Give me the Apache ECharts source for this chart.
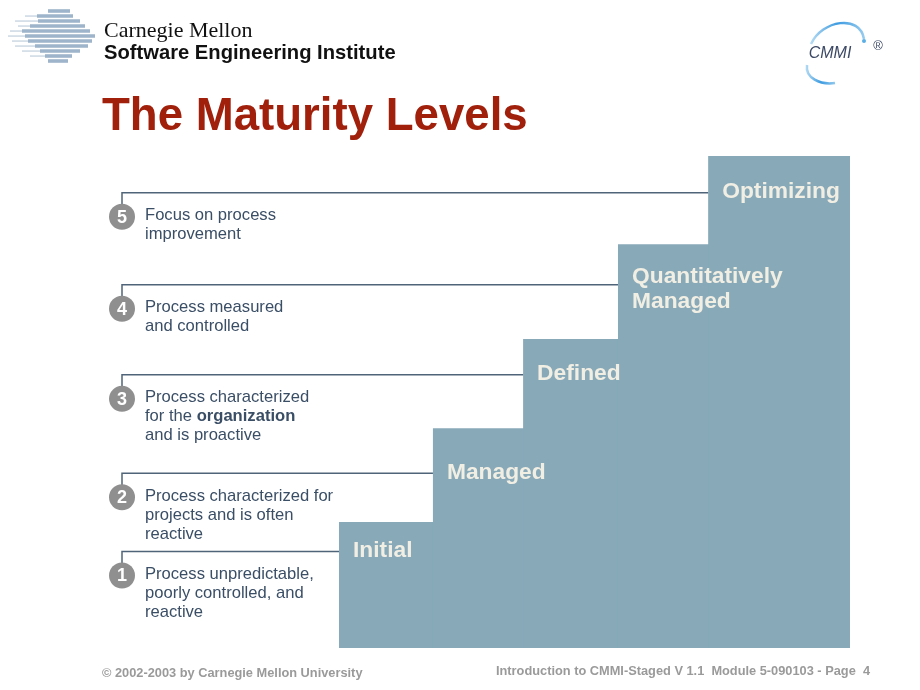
<!DOCTYPE html>
<html>
<head>
<meta charset="utf-8">
<script src="https://cdn.jsdelivr.net/npm/echarts@6/dist/echarts.min.js"></script>
<style>
html,body{margin:0;padding:0;background:#fff;}
#chart{width:920px;height:690px;}
</style>
</head>
<body>
<div id="chart"></div>
<script>
// ---- data ----
const levelNumbers = [1, 2, 3, 4, 5];
const levelNames = ['Initial', 'Managed', 'Defined', 'Quantitatively\nManaged', 'Optimizing'];
const descriptions = [
  'Process unpredictable,\npoorly controlled, and\nreactive',
  'Process characterized for\nprojects and is often\nreactive',
  'Process characterized\nfor the {b|organization}\nand is proactive',
  'Process measured\nand controlled',
  'Focus on process\nimprovement'
];
const stepLeft = [0, 1, 1.96, 2.97, 3.93];
const stepRight = [1, 1.96, 2.97, 3.93, 5.44];
const stepTop = [1.37, 2.39, 3.36, 4.39, 5.35];
const calloutY = [1.05, 1.90, 2.97, 3.95, 4.95];
const calloutX = -2.31;

const FONT = "'Liberation Sans', Arial, Helvetica, sans-serif";
const chart = echarts.init(document.getElementById('chart'), null, {renderer: 'canvas'});

function renderItem(params, api) {
  const i = params.dataIndex;
  const last = i === levelNumbers.length - 1;
  const l = api.value(0), r = api.value(1), t = api.value(2), cy = api.value(3);
  const p0 = api.coord([l, 0]);
  const p1 = api.coord([r, t]);
  const lp = api.coord([l, cy]);
  const cp = api.coord([calloutX, cy]);
  const circleY = lp[1] + 24;
  return {
    type: 'group',
    children: [
      {type: 'rect', z2: 1,
       shape: {x: p0[0], y: p1[1], width: p1[0] - p0[0] + (last ? 0 : 2), height: p0[1] - p1[1]},
       style: {fill: '#87a9b8'}},
      {type: 'polyline', z2: 2, shape: {points: [[lp[0], lp[1]], [cp[0], lp[1]], [cp[0], circleY - 12]]},
       style: {stroke: '#4f6478', lineWidth: 1.5, fill: 'none'}},
      {type: 'circle', z2: 3, shape: {cx: cp[0], cy: circleY, r: 13}, style: {fill: '#8f8f8f'}},
      {type: 'text', z2: 4, x: cp[0], y: circleY + 1,
       style: {text: String(api.value(4)), fill: '#ffffff', fontSize: 18, fontWeight: 'bold', fontFamily: FONT,
               align: 'center', verticalAlign: 'middle'}},
      {type: 'text', z2: 4, x: cp[0] + 23, y: circleY - 10.5,
       style: {text: descriptions[i], fill: '#3a4e66', fontSize: 16.6, fontFamily: FONT, lineHeight: 19,
               align: 'left', verticalAlign: 'top',
               rich: {b: {fontWeight: 'bold', fill: '#3a4e66', fontSize: 16.6, fontFamily: FONT, lineHeight: 19}}}},
      {type: 'text', z2: 10, x: p0[0] + 14, y: lp[1] + (i === 3 ? 4 : -1),
       style: {text: levelNames[i], fill: '#f1eee4', fontSize: 22.8, fontWeight: 'bold', fontFamily: FONT,
               lineHeight: 25, align: 'left', verticalAlign: 'middle'}}
    ]
  };
}

// logo stripes: [y, thickStart, thickEnd, thinStart]
const stripes = [
  [11, 48, 70, null], [16, 37, 73, 25], [21, 38, 80, 15], [26, 30, 85, 18], [31, 22, 90, 10],
  [36, 25, 95, 8], [41, 28, 92, 12], [46, 35, 88, 15], [51, 40, 80, 22], [56, 45, 72, 30], [61, 48, 68, null]
];
const logoEls = [];
stripes.forEach(s => {
  if (s[3] !== null) {
    logoEls.push({type: 'rect', shape: {x: s[3], y: s[0] - 0.6, width: s[1] - s[3], height: 1.3}, style: {fill: '#c4d2df'}});
  }
  logoEls.push({type: 'rect', shape: {x: s[1], y: s[0] - 1.8, width: s[2] - s[1], height: 3.6}, style: {fill: '#9db4ca'}});
});

const arcGrad = new echarts.graphic.LinearGradient(0, 0, 1, 0, [
  {offset: 0, color: '#bfe0f5'}, {offset: 0.5, color: '#3d9be0'}, {offset: 1, color: '#9fd0f0'}
]);

chart.setOption({
  animation: false,
  backgroundColor: '#ffffff',
  grid: {left: 122, right: 70, top: 156, bottom: 42},
  xAxis: {type: 'value', min: calloutX, max: 5.44, show: false},
  yAxis: {type: 'value', min: 0, max: 5.35, show: false},
  series: [{
    type: 'custom',
    silent: true,
    renderItem: renderItem,
    data: levelNumbers.map((n, i) => [stepLeft[i], stepRight[i], stepTop[i], calloutY[i], n])
  }],
  graphic: [
    {type: 'group', children: logoEls},
    {type: 'text', x: 104, y: 31, style: {text: 'Carnegie Mellon', fill: '#111', fontSize: 22,
      fontFamily: "'Liberation Serif', 'DejaVu Serif', serif", align: 'left', verticalAlign: 'middle'}},
    {type: 'text', x: 104, y: 53, style: {text: 'Software Engineering Institute', fill: '#111', fontSize: 20.2,
      fontWeight: 'bold', fontFamily: FONT, align: 'left', verticalAlign: 'middle'}},
    {type: 'bezierCurve', shape: {x1: 811, y1: 44, cpx1: 822, cpy1: 20, cpx2: 860, cpy2: 14, x2: 864, y2: 39},
      style: {stroke: arcGrad, lineWidth: 2.5, fill: 'none'}},
    {type: 'circle', shape: {cx: 864, cy: 41, r: 2}, style: {fill: '#5aaee6'}},
    {type: 'bezierCurve', shape: {x1: 807, y1: 65, cpx1: 805, cpy1: 78, cpx2: 820, cpy2: 85, x2: 835, y2: 83},
      style: {stroke: arcGrad, lineWidth: 2.5, fill: 'none'}},
    {type: 'text', x: 830, y: 54, style: {text: 'CMMI', fill: '#3d4a66', fontSize: 16, fontStyle: 'italic',
      fontFamily: FONT, align: 'center', verticalAlign: 'middle'}},
    {type: 'text', x: 878, y: 46, style: {text: '®', fill: '#3d4a66', fontSize: 13,
      fontFamily: FONT, align: 'center', verticalAlign: 'middle'}},
    {type: 'text', x: 102, y: 117, style: {text: 'The Maturity Levels', fill: '#a0200c', fontSize: 45.6,
      fontWeight: 'bold', fontFamily: FONT, align: 'left', verticalAlign: 'middle'}},
    {type: 'text', x: 102, y: 673, style: {text: '© 2002-2003 by Carnegie Mellon University', fill: '#9a9a9a',
      fontSize: 12.8, fontWeight: 'bold', fontFamily: FONT, align: 'left', verticalAlign: 'middle'}},
    {type: 'text', x: 870, y: 671, style: {text: 'Introduction to CMMI-Staged V 1.1  Module 5-090103 - Page  4',
      fill: '#9a9a9a', fontSize: 12.8, fontWeight: 'bold', fontFamily: FONT, align: 'right', verticalAlign: 'middle'}}
  ]
});
</script>
</body>
</html>
